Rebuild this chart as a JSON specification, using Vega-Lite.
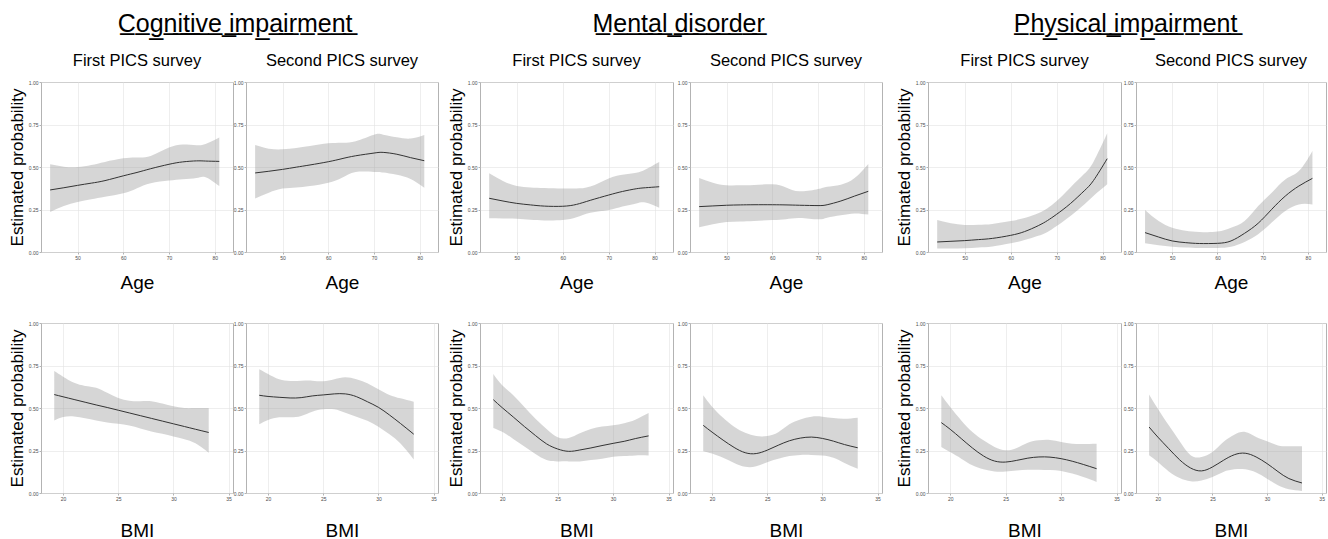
{
"$schema":"https://vega.github.io/schema/vega-lite/v6.json",
"background":"white",
"padding":{"left":7,"top":12,"right":0,"bottom":0},
"config":{
 "font":"Liberation Sans",
 "view":{"stroke":"#b3b3b3","strokeWidth":1},
 "axis":{"labelFontSize":5,"labelColor":"#4d4d4d","tickColor":"#b3b3b3","tickSize":2,"labelPadding":1,"domain":false,"gridColor":"#e3e3e3","gridWidth":0.6,"titleFontSize":19,"titleFontWeight":"normal","titleColor":"black","labelFlush":false},
 "axisY":{"titleFontSize":17,"titlePadding":2},
 "title":{"fontSize":16.5,"fontWeight":"normal","color":"black","offset":11,"anchor":"middle"},
 "area":{"fill":"#999999","fillOpacity":0.4,"interpolate":"natural"},
 "line":{"stroke":"#333333","strokeWidth":1,"interpolate":"natural"}
},
"datasets":{
"cogAge1":[{"x":44,"fit":0.365,"lo":0.235,"hi":0.516},{"x":47,"fit":0.378,"lo":0.27,"hi":0.502},{"x":50,"fit":0.392,"lo":0.294,"hi":0.5},{"x":53,"fit":0.405,"lo":0.31,"hi":0.512},{"x":56,"fit":0.42,"lo":0.325,"hi":0.53},{"x":60,"fit":0.448,"lo":0.345,"hi":0.551},{"x":63,"fit":0.468,"lo":0.375,"hi":0.556},{"x":66,"fit":0.49,"lo":0.405,"hi":0.565},{"x":70,"fit":0.516,"lo":0.42,"hi":0.614},{"x":73,"fit":0.53,"lo":0.428,"hi":0.633},{"x":76,"fit":0.536,"lo":0.435,"hi":0.628},{"x":78,"fit":0.535,"lo":0.44,"hi":0.635},{"x":81,"fit":0.533,"lo":0.388,"hi":0.673}],
"cogAge2":[{"x":44,"fit":0.465,"lo":0.314,"hi":0.629},{"x":47,"fit":0.475,"lo":0.349,"hi":0.608},{"x":50,"fit":0.486,"lo":0.373,"hi":0.604},{"x":53,"fit":0.499,"lo":0.38,"hi":0.612},{"x":56,"fit":0.512,"lo":0.388,"hi":0.624},{"x":60,"fit":0.531,"lo":0.408,"hi":0.639},{"x":63,"fit":0.549,"lo":0.437,"hi":0.643},{"x":66,"fit":0.566,"lo":0.471,"hi":0.652},{"x":70,"fit":0.582,"lo":0.471,"hi":0.69},{"x":72,"fit":0.586,"lo":0.468,"hi":0.69},{"x":75,"fit":0.575,"lo":0.455,"hi":0.675},{"x":78,"fit":0.555,"lo":0.43,"hi":0.667},{"x":81,"fit":0.537,"lo":0.378,"hi":0.688}],
"mentAge1":[{"x":44,"fit":0.316,"lo":0.198,"hi":0.463},{"x":47,"fit":0.3,"lo":0.197,"hi":0.418},{"x":50,"fit":0.286,"lo":0.196,"hi":0.388},{"x":53,"fit":0.277,"lo":0.19,"hi":0.38},{"x":56,"fit":0.27,"lo":0.186,"hi":0.376},{"x":60,"fit":0.269,"lo":0.188,"hi":0.373},{"x":63,"fit":0.28,"lo":0.204,"hi":0.374},{"x":66,"fit":0.304,"lo":0.231,"hi":0.385},{"x":70,"fit":0.335,"lo":0.247,"hi":0.433},{"x":73,"fit":0.356,"lo":0.267,"hi":0.455},{"x":76,"fit":0.372,"lo":0.286,"hi":0.466},{"x":78,"fit":0.378,"lo":0.291,"hi":0.485},{"x":81,"fit":0.384,"lo":0.261,"hi":0.529}],
"mentAge2":[{"x":44,"fit":0.267,"lo":0.145,"hi":0.435},{"x":47,"fit":0.271,"lo":0.163,"hi":0.408},{"x":50,"fit":0.275,"lo":0.176,"hi":0.392},{"x":53,"fit":0.277,"lo":0.18,"hi":0.392},{"x":56,"fit":0.278,"lo":0.183,"hi":0.394},{"x":60,"fit":0.278,"lo":0.188,"hi":0.398},{"x":63,"fit":0.277,"lo":0.193,"hi":0.38},{"x":66,"fit":0.275,"lo":0.2,"hi":0.357},{"x":70,"fit":0.273,"lo":0.192,"hi":0.37},{"x":72,"fit":0.278,"lo":0.202,"hi":0.384},{"x":75,"fit":0.3,"lo":0.216,"hi":0.396},{"x":78,"fit":0.329,"lo":0.227,"hi":0.435},{"x":81,"fit":0.357,"lo":0.22,"hi":0.518}],
"physAge1":[{"x":44,"fit":0.059,"lo":0.02,"hi":0.188},{"x":47,"fit":0.063,"lo":0.021,"hi":0.169},{"x":50,"fit":0.067,"lo":0.022,"hi":0.159},{"x":53,"fit":0.073,"lo":0.027,"hi":0.16},{"x":56,"fit":0.08,"lo":0.033,"hi":0.165},{"x":60,"fit":0.098,"lo":0.051,"hi":0.182},{"x":63,"fit":0.12,"lo":0.07,"hi":0.2},{"x":66,"fit":0.155,"lo":0.095,"hi":0.228},{"x":68,"fit":0.185,"lo":0.118,"hi":0.258},{"x":70,"fit":0.222,"lo":0.153,"hi":0.3},{"x":73,"fit":0.285,"lo":0.212,"hi":0.38},{"x":76,"fit":0.36,"lo":0.28,"hi":0.46},{"x":78,"fit":0.42,"lo":0.33,"hi":0.53},{"x":81,"fit":0.549,"lo":0.398,"hi":0.698}],
"physAge2":[{"x":44,"fit":0.114,"lo":0.051,"hi":0.247},{"x":47,"fit":0.088,"lo":0.04,"hi":0.182},{"x":50,"fit":0.065,"lo":0.031,"hi":0.143},{"x":53,"fit":0.055,"lo":0.027,"hi":0.125},{"x":56,"fit":0.05,"lo":0.024,"hi":0.118},{"x":60,"fit":0.051,"lo":0.024,"hi":0.12},{"x":63,"fit":0.065,"lo":0.031,"hi":0.143},{"x":66,"fit":0.11,"lo":0.059,"hi":0.182},{"x":69,"fit":0.169,"lo":0.104,"hi":0.27},{"x":72,"fit":0.251,"lo":0.173,"hi":0.349},{"x":75,"fit":0.329,"lo":0.241,"hi":0.427},{"x":78,"fit":0.388,"lo":0.28,"hi":0.476},{"x":81,"fit":0.433,"lo":0.28,"hi":0.594}],
"cogBMI1":[{"x":19.2,"fit":0.579,"lo":0.427,"hi":0.717},{"x":20,"fit":0.566,"lo":0.447,"hi":0.684},{"x":21,"fit":0.55,"lo":0.45,"hi":0.648},{"x":22,"fit":0.534,"lo":0.44,"hi":0.63},{"x":23,"fit":0.518,"lo":0.427,"hi":0.619},{"x":24,"fit":0.503,"lo":0.415,"hi":0.589},{"x":25,"fit":0.487,"lo":0.407,"hi":0.559},{"x":26,"fit":0.471,"lo":0.397,"hi":0.543},{"x":27,"fit":0.455,"lo":0.38,"hi":0.54},{"x":28,"fit":0.439,"lo":0.362,"hi":0.54},{"x":29,"fit":0.423,"lo":0.348,"hi":0.526},{"x":30,"fit":0.407,"lo":0.332,"hi":0.51},{"x":31,"fit":0.391,"lo":0.316,"hi":0.5},{"x":32,"fit":0.375,"lo":0.292,"hi":0.5},{"x":33.2,"fit":0.356,"lo":0.237,"hi":0.5}],
"cogBMI2":[{"x":19.2,"fit":0.575,"lo":0.404,"hi":0.728},{"x":20,"fit":0.568,"lo":0.429,"hi":0.7},{"x":21,"fit":0.563,"lo":0.445,"hi":0.669},{"x":22,"fit":0.559,"lo":0.445,"hi":0.659},{"x":23,"fit":0.561,"lo":0.453,"hi":0.66},{"x":24,"fit":0.571,"lo":0.478,"hi":0.661},{"x":25,"fit":0.577,"lo":0.492,"hi":0.657},{"x":26,"fit":0.583,"lo":0.492,"hi":0.669},{"x":27,"fit":0.583,"lo":0.472,"hi":0.681},{"x":28,"fit":0.567,"lo":0.449,"hi":0.669},{"x":29,"fit":0.537,"lo":0.425,"hi":0.646},{"x":30,"fit":0.504,"lo":0.39,"hi":0.61},{"x":31,"fit":0.459,"lo":0.346,"hi":0.577},{"x":32,"fit":0.409,"lo":0.291,"hi":0.557},{"x":33.2,"fit":0.346,"lo":0.197,"hi":0.537}],
"mentBMI1":[{"x":19.2,"fit":0.549,"lo":0.383,"hi":0.7},{"x":20,"fit":0.502,"lo":0.36,"hi":0.634},{"x":21,"fit":0.447,"lo":0.318,"hi":0.575},{"x":22,"fit":0.391,"lo":0.273,"hi":0.506},{"x":23,"fit":0.338,"lo":0.229,"hi":0.437},{"x":24,"fit":0.289,"lo":0.194,"hi":0.377},{"x":25,"fit":0.259,"lo":0.186,"hi":0.328},{"x":26,"fit":0.245,"lo":0.186,"hi":0.324},{"x":27,"fit":0.253,"lo":0.186,"hi":0.352},{"x":28,"fit":0.265,"lo":0.194,"hi":0.377},{"x":29,"fit":0.279,"lo":0.202,"hi":0.391},{"x":30,"fit":0.292,"lo":0.213,"hi":0.399},{"x":31,"fit":0.304,"lo":0.217,"hi":0.411},{"x":32,"fit":0.32,"lo":0.221,"hi":0.431},{"x":33.2,"fit":0.336,"lo":0.221,"hi":0.47}],
"mentBMI2":[{"x":19.2,"fit":0.398,"lo":0.246,"hi":0.575},{"x":20,"fit":0.358,"lo":0.232,"hi":0.508},{"x":21,"fit":0.311,"lo":0.207,"hi":0.443},{"x":22,"fit":0.268,"lo":0.177,"hi":0.39},{"x":23,"fit":0.237,"lo":0.154,"hi":0.354},{"x":24,"fit":0.232,"lo":0.157,"hi":0.335},{"x":25,"fit":0.252,"lo":0.181,"hi":0.335},{"x":26,"fit":0.281,"lo":0.201,"hi":0.358},{"x":27,"fit":0.307,"lo":0.217,"hi":0.404},{"x":28,"fit":0.323,"lo":0.224,"hi":0.433},{"x":29,"fit":0.329,"lo":0.224,"hi":0.449},{"x":30,"fit":0.321,"lo":0.22,"hi":0.449},{"x":31,"fit":0.305,"lo":0.207,"hi":0.441},{"x":32,"fit":0.285,"lo":0.177,"hi":0.437},{"x":33.2,"fit":0.266,"lo":0.142,"hi":0.443}],
"physBMI1":[{"x":19.2,"fit":0.414,"lo":0.271,"hi":0.575},{"x":20,"fit":0.375,"lo":0.241,"hi":0.506},{"x":21,"fit":0.32,"lo":0.202,"hi":0.427},{"x":22,"fit":0.265,"lo":0.163,"hi":0.359},{"x":23,"fit":0.218,"lo":0.139,"hi":0.31},{"x":24,"fit":0.188,"lo":0.127,"hi":0.271},{"x":25,"fit":0.182,"lo":0.127,"hi":0.251},{"x":26,"fit":0.192,"lo":0.133,"hi":0.265},{"x":27,"fit":0.205,"lo":0.137,"hi":0.296},{"x":28,"fit":0.212,"lo":0.137,"hi":0.31},{"x":29,"fit":0.211,"lo":0.135,"hi":0.312},{"x":30,"fit":0.202,"lo":0.129,"hi":0.3},{"x":31,"fit":0.187,"lo":0.114,"hi":0.29},{"x":32,"fit":0.168,"lo":0.094,"hi":0.288},{"x":33.2,"fit":0.143,"lo":0.065,"hi":0.29}],
"physBMI2":[{"x":19.2,"fit":0.388,"lo":0.222,"hi":0.58},{"x":20,"fit":0.329,"lo":0.182,"hi":0.496},{"x":21,"fit":0.261,"lo":0.127,"hi":0.398},{"x":22,"fit":0.195,"lo":0.088,"hi":0.304},{"x":23,"fit":0.147,"lo":0.069,"hi":0.222},{"x":24,"fit":0.13,"lo":0.073,"hi":0.212},{"x":25,"fit":0.153,"lo":0.094,"hi":0.241},{"x":26,"fit":0.192,"lo":0.124,"hi":0.3},{"x":27,"fit":0.225,"lo":0.139,"hi":0.343},{"x":28,"fit":0.234,"lo":0.139,"hi":0.359},{"x":29,"fit":0.212,"lo":0.12,"hi":0.329},{"x":30,"fit":0.173,"lo":0.084,"hi":0.304},{"x":31,"fit":0.126,"lo":0.045,"hi":0.28},{"x":32,"fit":0.085,"lo":0.022,"hi":0.275},{"x":33.2,"fit":0.059,"lo":0.012,"hi":0.275}]
},
"spacing":11,
"hconcat":[
{"spacing":7,"hconcat":[
{"title":{"text":"C\u0332o\u0332g\u0332n\u0332i\u0332t\u0332i\u0332v\u0332e\u0332 \u0332i\u0332m\u0332p\u0332a\u0332i\u0332r\u0332m\u0332e\u0332n\u0332t\u0332","fontSize":25,"anchor":"middle","offset":15,"dx":12},
 "spacing":27,
 "vconcat":[
  {"spacing":-2,"hconcat":[
   {"width":192,"height":170,"title":{"text":"First PICS survey"},"data":{"name":"cogAge1"},
    "encoding":{"x":{"field":"x","type":"quantitative","scale":{"domain":[42,84],"nice":false,"zero":false},"axis":{"values":[50,60,70,80],"title":"Age","titlePadding":13}}},
    "layer":[
     {"mark":"area","encoding":{"y":{"field":"lo","type":"quantitative","scale":{"domain":[0,1]},"axis":{"values":[0,0.25,0.5,0.75,1],"format":".2f","title":"Estimated probability"}},"y2":{"field":"hi"}}},
     {"mark":"line","encoding":{"y":{"field":"fit","type":"quantitative","axis":{"values":[0,0.25,0.5,0.75,1],"format":".2f","title":"Estimated probability"}}}}
    ]},
   {"width":192,"height":170,"title":{"text":"Second PICS survey"},"data":{"name":"cogAge2"},
    "encoding":{"x":{"field":"x","type":"quantitative","scale":{"domain":[42,84],"nice":false,"zero":false},"axis":{"values":[50,60,70,80],"title":"Age","titlePadding":13}}},
    "layer":[
     {"mark":"area","encoding":{"y":{"field":"lo","type":"quantitative","scale":{"domain":[0,1]},"axis":{"values":[0,0.25,0.5,0.75,1],"format":".2f","title":null}},"y2":{"field":"hi"}}},
     {"mark":"line","encoding":{"y":{"field":"fit","type":"quantitative","axis":{"values":[0,0.25,0.5,0.75,1],"format":".2f","title":null}}}}
    ]}
  ]},
  {"spacing":-2,"hconcat":[
   {"width":192,"height":170,"data":{"name":"cogBMI1"},
    "encoding":{"x":{"field":"x","type":"quantitative","scale":{"domain":[18,35.4],"nice":false,"zero":false},"axis":{"values":[20,25,30,35],"title":"BMI","titlePadding":20}}},
    "layer":[
     {"mark":"area","encoding":{"y":{"field":"lo","type":"quantitative","scale":{"domain":[0,1]},"axis":{"values":[0,0.25,0.5,0.75,1],"format":".2f","title":"Estimated probability"}},"y2":{"field":"hi"}}},
     {"mark":"line","encoding":{"y":{"field":"fit","type":"quantitative","axis":{"values":[0,0.25,0.5,0.75,1],"format":".2f","title":"Estimated probability"}}}}
    ]},
   {"width":192,"height":170,"data":{"name":"cogBMI2"},
    "encoding":{"x":{"field":"x","type":"quantitative","scale":{"domain":[18,35.4],"nice":false,"zero":false},"axis":{"values":[20,25,30,35],"title":"BMI","titlePadding":20}}},
    "layer":[
     {"mark":"area","encoding":{"y":{"field":"lo","type":"quantitative","scale":{"domain":[0,1]},"axis":{"values":[0,0.25,0.5,0.75,1],"format":".2f","title":null}},"y2":{"field":"hi"}}},
     {"mark":"line","encoding":{"y":{"field":"fit","type":"quantitative","axis":{"values":[0,0.25,0.5,0.75,1],"format":".2f","title":null}}}}
    ]}
  ]}
 ]},
{"title":{"text":"M\u0332e\u0332n\u0332t\u0332a\u0332l\u0332 \u0332d\u0332i\u0332s\u0332o\u0332r\u0332d\u0332e\u0332r\u0332","fontSize":25,"anchor":"middle","offset":15,"dx":14},
 "spacing":27,
 "vconcat":[
  {"spacing":2,"hconcat":[
   {"width":193,"height":170,"title":{"text":"First PICS survey"},"data":{"name":"mentAge1"},
    "encoding":{"x":{"field":"x","type":"quantitative","scale":{"domain":[42,84],"nice":false,"zero":false},"axis":{"values":[50,60,70,80],"title":"Age","titlePadding":13}}},
    "layer":[
     {"mark":"area","encoding":{"y":{"field":"lo","type":"quantitative","scale":{"domain":[0,1]},"axis":{"values":[0,0.25,0.5,0.75,1],"format":".2f","title":"Estimated probability"}},"y2":{"field":"hi"}}},
     {"mark":"line","encoding":{"y":{"field":"fit","type":"quantitative","axis":{"values":[0,0.25,0.5,0.75,1],"format":".2f","title":"Estimated probability"}}}}
    ]},
   {"width":192,"height":170,"title":{"text":"Second PICS survey"},"data":{"name":"mentAge2"},
    "encoding":{"x":{"field":"x","type":"quantitative","scale":{"domain":[42,84],"nice":false,"zero":false},"axis":{"values":[50,60,70,80],"title":"Age","titlePadding":13}}},
    "layer":[
     {"mark":"area","encoding":{"y":{"field":"lo","type":"quantitative","scale":{"domain":[0,1]},"axis":{"values":[0,0.25,0.5,0.75,1],"format":".2f","title":null}},"y2":{"field":"hi"}}},
     {"mark":"line","encoding":{"y":{"field":"fit","type":"quantitative","axis":{"values":[0,0.25,0.5,0.75,1],"format":".2f","title":null}}}}
    ]}
  ]},
  {"spacing":2,"hconcat":[
   {"width":193,"height":170,"data":{"name":"mentBMI1"},
    "encoding":{"x":{"field":"x","type":"quantitative","scale":{"domain":[18,35.4],"nice":false,"zero":false},"axis":{"values":[20,25,30,35],"title":"BMI","titlePadding":20}}},
    "layer":[
     {"mark":"area","encoding":{"y":{"field":"lo","type":"quantitative","scale":{"domain":[0,1]},"axis":{"values":[0,0.25,0.5,0.75,1],"format":".2f","title":"Estimated probability"}},"y2":{"field":"hi"}}},
     {"mark":"line","encoding":{"y":{"field":"fit","type":"quantitative","axis":{"values":[0,0.25,0.5,0.75,1],"format":".2f","title":"Estimated probability"}}}}
    ]},
   {"width":192,"height":170,"data":{"name":"mentBMI2"},
    "encoding":{"x":{"field":"x","type":"quantitative","scale":{"domain":[18,35.4],"nice":false,"zero":false},"axis":{"values":[20,25,30,35],"title":"BMI","titlePadding":20}}},
    "layer":[
     {"mark":"area","encoding":{"y":{"field":"lo","type":"quantitative","scale":{"domain":[0,1]},"axis":{"values":[0,0.25,0.5,0.75,1],"format":".2f","title":null}},"y2":{"field":"hi"}}},
     {"mark":"line","encoding":{"y":{"field":"fit","type":"quantitative","axis":{"values":[0,0.25,0.5,0.75,1],"format":".2f","title":null}}}}
    ]}
  ]}
 ]}
]},
{"title":{"text":"P\u0332h\u0332y\u0332s\u0332i\u0332c\u0332a\u0332l\u0332 \u0332i\u0332m\u0332p\u0332a\u0332i\u0332r\u0332m\u0332e\u0332n\u0332t\u0332","fontSize":25,"anchor":"middle","offset":15,"dx":15},
 "spacing":27,
 "vconcat":[
  {"spacing":0,"hconcat":[
   {"width":193,"height":170,"title":{"text":"First PICS survey"},"data":{"name":"physAge1"},
    "encoding":{"x":{"field":"x","type":"quantitative","scale":{"domain":[42,84],"nice":false,"zero":false},"axis":{"values":[50,60,70,80],"title":"Age","titlePadding":13}}},
    "layer":[
     {"mark":"area","encoding":{"y":{"field":"lo","type":"quantitative","scale":{"domain":[0,1]},"axis":{"values":[0,0.25,0.5,0.75,1],"format":".2f","title":"Estimated probability"}},"y2":{"field":"hi"}}},
     {"mark":"line","encoding":{"y":{"field":"fit","type":"quantitative","axis":{"values":[0,0.25,0.5,0.75,1],"format":".2f","title":"Estimated probability"}}}}
    ]},
   {"width":190,"height":170,"title":{"text":"Second PICS survey"},"data":{"name":"physAge2"},
    "encoding":{"x":{"field":"x","type":"quantitative","scale":{"domain":[42,84],"nice":false,"zero":false},"axis":{"values":[50,60,70,80],"title":"Age","titlePadding":13}}},
    "layer":[
     {"mark":"area","encoding":{"y":{"field":"lo","type":"quantitative","scale":{"domain":[0,1]},"axis":{"values":[0,0.25,0.5,0.75,1],"format":".2f","title":null}},"y2":{"field":"hi"}}},
     {"mark":"line","encoding":{"y":{"field":"fit","type":"quantitative","axis":{"values":[0,0.25,0.5,0.75,1],"format":".2f","title":null}}}}
    ]}
  ]},
  {"spacing":0,"hconcat":[
   {"width":193,"height":170,"data":{"name":"physBMI1"},
    "encoding":{"x":{"field":"x","type":"quantitative","scale":{"domain":[18,35.4],"nice":false,"zero":false},"axis":{"values":[20,25,30,35],"title":"BMI","titlePadding":20}}},
    "layer":[
     {"mark":"area","encoding":{"y":{"field":"lo","type":"quantitative","scale":{"domain":[0,1]},"axis":{"values":[0,0.25,0.5,0.75,1],"format":".2f","title":"Estimated probability"}},"y2":{"field":"hi"}}},
     {"mark":"line","encoding":{"y":{"field":"fit","type":"quantitative","axis":{"values":[0,0.25,0.5,0.75,1],"format":".2f","title":"Estimated probability"}}}}
    ]},
   {"width":190,"height":170,"data":{"name":"physBMI2"},
    "encoding":{"x":{"field":"x","type":"quantitative","scale":{"domain":[18,35.4],"nice":false,"zero":false},"axis":{"values":[20,25,30,35],"title":"BMI","titlePadding":20}}},
    "layer":[
     {"mark":"area","encoding":{"y":{"field":"lo","type":"quantitative","scale":{"domain":[0,1]},"axis":{"values":[0,0.25,0.5,0.75,1],"format":".2f","title":null}},"y2":{"field":"hi"}}},
     {"mark":"line","encoding":{"y":{"field":"fit","type":"quantitative","axis":{"values":[0,0.25,0.5,0.75,1],"format":".2f","title":null}}}}
    ]}
  ]}
 ]}
]
}
